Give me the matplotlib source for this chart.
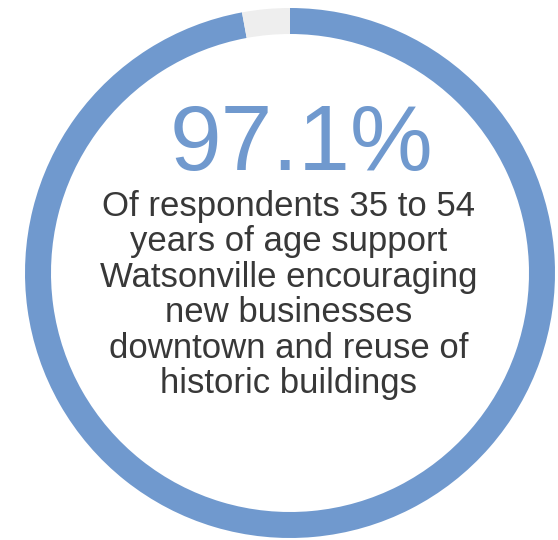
import matplotlib
matplotlib.use("Agg")
import matplotlib.pyplot as plt

# Data
labels = ["Support", "Other"]
values = [97.1, 2.9]
colors = ["#7099ce", "#eeeeee"]
headline = "97.1%"
caption_lines = [
    "Of respondents 35 to 54",
    "years of age support",
    "Watsonville encouraging",
    "new businesses",
    "downtown and reuse of",
    "historic buildings",
]

W, H = 558, 540
fig = plt.figure(figsize=(W / 100, H / 100), dpi=100)
ax = fig.add_axes([0, 0, 1, 1])
ax.set_xlim(0, W)
ax.set_ylim(0, H)
ax.set_aspect("equal")
ax.axis("off")

cx, cy = 290, H - 273
R, ring_w = 265, 26
ax.pie(values, colors=colors, startangle=90, counterclock=False,
       radius=R, center=(cx, cy),
       wedgeprops=dict(width=ring_w, edgecolor="none"))
ax.set_xlim(0, W)
ax.set_ylim(0, H)

font = "Liberation Sans"
ax.text(301, H - 170, headline, ha="center", va="baseline",
        fontsize=67, color="#7099ce", family=font)

base0, step = 216, 35.4
for i, line in enumerate(caption_lines):
    ax.text(289, H - (base0 + i * step), line, ha="center", va="baseline",
            fontsize=25, color="#383838", family=font)

fig.savefig("out.png", dpi=100, facecolor="white")
